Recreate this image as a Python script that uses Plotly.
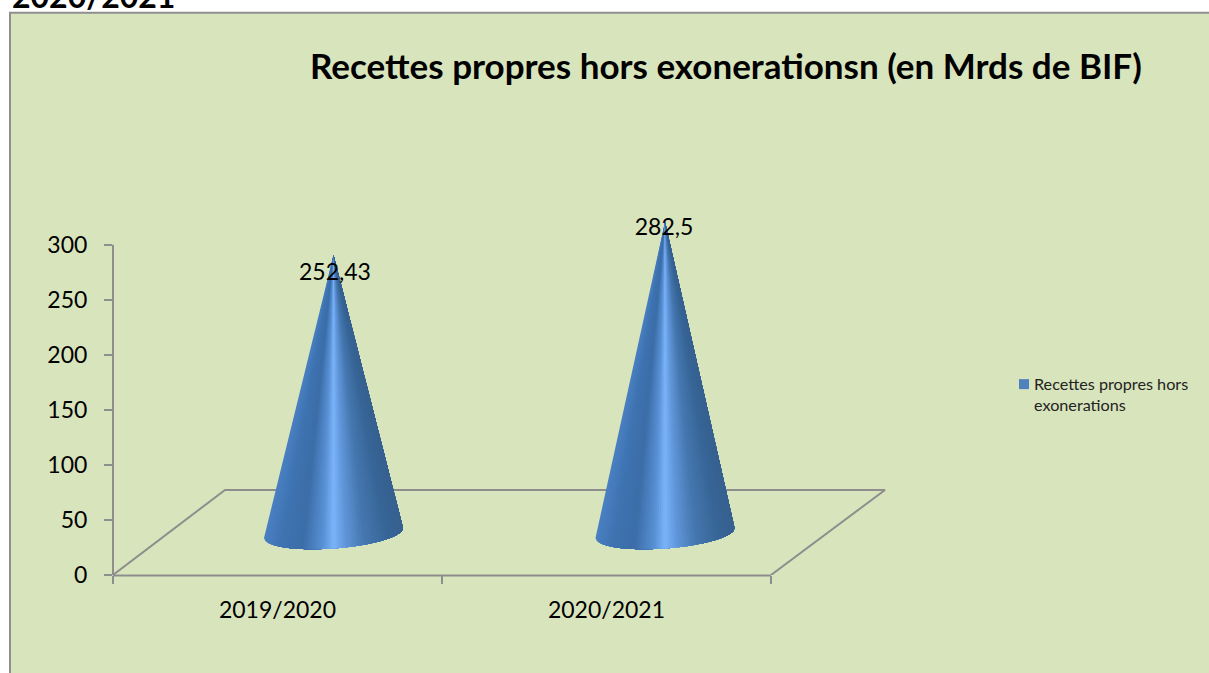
import numpy as np
import plotly.graph_objects as go

# ---- data ----
categories = ["2019/2020", "2020/2021"]
values = [252.43, 282.5]
value_labels = ["252,43", "282,5"]
series_name = "Recettes propres hors<br>exonerations"
title_text = "Recettes propres hors exonerationsn (en Mrds de BIF)"
page_heading = "2020/2021"
y_ticks = [0, 50, 100, 150, 200, 250, 300]

# ---- layout constants (pixels of the 1209x673 page) ----
W, H = 1209, 673
X0, X2 = 113, 771            # x value 0 and x value 2
Y0, Y300 = 574.7, 244.7      # y value 0 and y value 300
PR, PT = 900, 200            # plot area runs a bit past the axes for the 3D box
PX = (X2 - X0) / 2.0
PY = (Y0 - Y300) / 300.0
FONT = "Lato"
GREY = "#8E8E8E"
BG = "#D8E4BC"

def px(x): return (x - X0) / (PR - X0)
def py(y): return (Y0 - y) / (Y0 - PT)

# cone geometry in axis units
cone_x = [(333.5 - X0) / PX, (665 - X0) / PX]
base_lift = 42 / PY
semi_a = 69.5 / PX
semi_b = 15.5 / PY
tilt = 5 / PY
stops = [0, .12, .28, .42, .5, .58, .72, .88, 1]
stop_r = [0x4A, 0x3F, 0x3C, 0x58, 0x7C, 0x62, 0x46, 0x38, 0x36]
stop_g = [0x80, 0x74, 0x6E, 0x90, 0xB4, 0x98, 0x78, 0x66, 0x60]
stop_b = [0xC2, 0xB2, 0xA8, 0xD4, 0xFA, 0xDC, 0xB0, 0x98, 0x90]
N = 60

fig = go.Figure()

# floor of the 3D box
depth_x = 112 / PX
depth_y = 85 / PY
back_right = (885 - X0) / PX
fig.add_trace(go.Scatter(
    x=[0, depth_x, back_right, 2], y=[0, depth_y, depth_y, 0],
    mode="lines", line=dict(color=GREY, width=2),
    showlegend=False, hoverinfo="skip"))

# cones: each layer paints from its slice to the right edge, so no seams show
for cx, val in zip(cone_x, values):
    xs = np.linspace(-1, 1, N + 1)
    for i in range(N):
        cs = np.linspace(xs[i], 1, max(2, (N - i) * 2))
        bx = cx + semi_a * cs
        by = base_lift - semi_b * np.sqrt(np.clip(1 - cs ** 2, 0, 1)) + tilt * cs
        f = (i + .5) / N
        col = "rgb(%d,%d,%d)" % (np.interp(f, stops, stop_r),
                                 np.interp(f, stops, stop_g),
                                 np.interp(f, stops, stop_b))
        fig.add_trace(go.Scatter(
            x=[cx, *bx, cx], y=[val + base_lift, *by, val + base_lift],
            mode="none", fill="toself", fillcolor=col,
            showlegend=False, hoverinfo="skip"))

# data labels
label_lift = [20.5, 31.3]
fig.add_trace(go.Scatter(
    x=[cone_x[0] + 1.5 / PX, cone_x[1] - 1 / PX],
    y=[v + d for v, d in zip(values, label_lift)],
    mode="text", text=value_labels, textposition="middle center",
    textfont=dict(family=FONT, size=23, color="black"),
    showlegend=False, hoverinfo="skip"))

shapes = [
    dict(type="rect", xref="paper", yref="paper", layer="below",
         x0=px(10), x1=px(W + 10), y0=py(H + 10), y1=py(13),
         fillcolor=BG, line=dict(color=GREY, width=2)),
    dict(type="rect", xref="paper", yref="paper",
         x0=px(1019), x1=px(1029), y0=py(389), y1=py(379),
         fillcolor="#4F81BD", line=dict(width=0)),
    # axis lines
    dict(type="line", xref="paper", yref="paper",
         x0=px(X0), x1=px(X0), y0=py(Y0), y1=py(Y300),
         line=dict(color=GREY, width=2)),
    dict(type="line", xref="paper", yref="paper",
         x0=px(X0), x1=px(X2), y0=py(Y0 + 0.6), y1=py(Y0 + 0.6),
         line=dict(color=GREY, width=2)),
]

annotations = [
    dict(text="<b>%s</b>" % page_heading, xref="paper", yref="paper",
         x=px(10), y=py(17), xanchor="left", yanchor="bottom", showarrow=False,
         font=dict(family=FONT, size=32, color="black")),
    dict(text="<b>%s</b>" % title_text, xref="paper", yref="paper",
         x=px(726), y=py(65), xanchor="center", yanchor="middle", showarrow=False,
         font=dict(family=FONT, size=35, color="black")),
    dict(text=series_name, xref="paper", yref="paper",
         x=px(1032), y=py(394), xanchor="left", yanchor="middle", align="left",
         showarrow=False, font=dict(family=FONT, size=16.2, color="#222222")),
]

fig.update_layout(
    width=W, height=H,
    margin=dict(l=X0, r=W - PR, t=PT, b=H - Y0, pad=0),
    paper_bgcolor="white", plot_bgcolor="rgba(0,0,0,0)",
    showlegend=False, shapes=shapes, annotations=annotations,
    font=dict(family=FONT, color="black"),
    xaxis=dict(range=[0, (PR - X0) / PX], tickvals=[0.5, 1.5], ticktext=categories,
               ticks="", showgrid=False, zeroline=False, showline=False,
               ticklabelstandoff=19,
               tickfont=dict(family=FONT, size=23, color="black"),
               minor=dict(tickvals=[0, 1, 2], ticks="outside", ticklen=8,
                          tickwidth=2, tickcolor=GREY, showgrid=False)),
    yaxis=dict(range=[0, (Y0 - PT) / PY], tickvals=y_ticks, ticks="outside", ticklen=8,
               tickwidth=2, tickcolor=GREY, showgrid=False, zeroline=False,
               showline=False, ticklabelstandoff=12,
               tickfont=dict(family=FONT, size=23, color="black")),
)

fig.write_html("out.html", post_script="document.body.style.margin='0';",
               config={"displayModeBar": False})
